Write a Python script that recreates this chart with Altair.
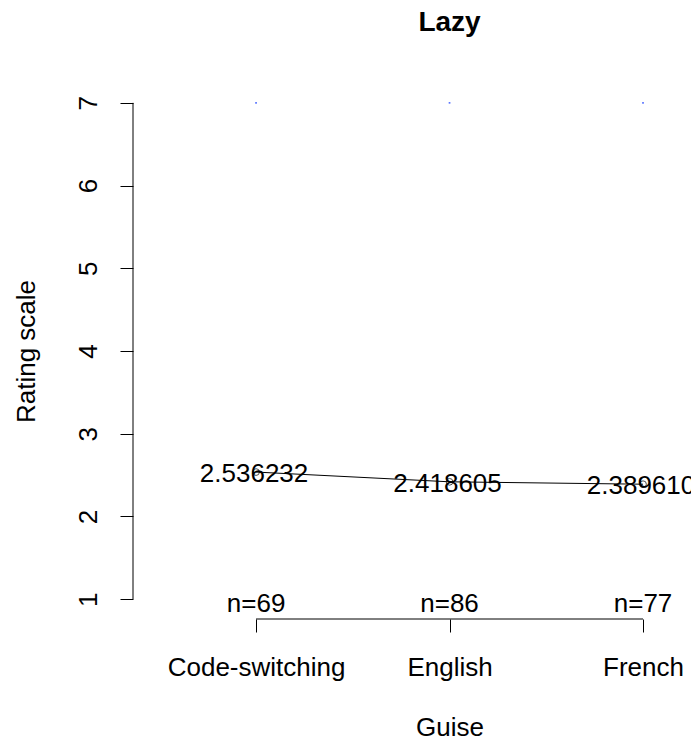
import altair as alt
import pandas as pd

# ---- data ----
chart_title = ["Lazy"]
guises = ["Code-switching", "English", "French"]
positions = [1, 2, 3]
means = [2.536232, 2.418605, 2.389610]
counts = [69, 86, 77]
ci_top = [7, 7, 7]          # tiny blue marks at the top of the scale
y_ticks = [1, 2, 3, 4, 5, 6, 7]

FONT = "Liberation Sans"
XMIN, XMAX = 0.364, 3.248
YMIN, YMAX = 0.76, 7.24
W, H = 558, 536

df = pd.DataFrame({"pos": positions, "guise": guises, "mean": means,
                   "n": counts, "top": ci_top})
yaxis_df = pd.DataFrame({"x": [XMIN], "y1": [y_ticks[0]], "y2": [y_ticks[-1]]})
xaxis_df = pd.DataFrame({"x1": [positions[0]], "x2": [positions[-1]], "y": [YMIN]})
title_df = pd.DataFrame({"t": chart_title})

label_expr = "[" + ",".join("'" + g + "'" for g in guises) + "][datum.value - 1]"

xscale = alt.Scale(domain=[XMIN, XMAX], nice=False, zero=False)
yscale = alt.Scale(domain=[YMIN, YMAX], nice=False, zero=False)

xaxis = alt.Axis(values=positions, domain=False, grid=False, ticks=True,
                 tickSize=13, tickColor="black", tickWidth=1,
                 labelExpr=label_expr, labelFont=FONT, labelFontSize=26,
                 labelColor="black", labelPadding=43, labelBaseline="alphabetic",
                 labelAngle=0, labelAlign="center", labelOverlap=False, labelFlush=False,
                 title="Guise", titleFont=FONT, titleFontSize=26, titleFontWeight="normal",
                 titleColor="black", titleX=316.5, titleY=116,
                 titleBaseline="alphabetic", titleAlign="center")
yaxis = alt.Axis(values=y_ticks, domain=False, grid=False, ticks=True,
                 tickSize=13, tickColor="black", tickWidth=1,
                 labelFont=FONT, labelFontSize=26, labelColor="black",
                 labelAngle=270, labelAlign="center", labelBaseline="alphabetic",
                 labelPadding=24, labelOverlap=False, labelFlush=False,
                 title="Rating scale", titleFont=FONT, titleFontSize=26,
                 titleFontWeight="normal", titleColor="black", titleAngle=270,
                 titleX=-99, titleY=268, titleBaseline="alphabetic", titleAlign="center")


def X(f):
    return alt.X(f, type="quantitative", scale=xscale, axis=xaxis)


def Y(f):
    return alt.Y(f, type="quantitative", scale=yscale, axis=yaxis)


base = alt.Chart(df)

line = base.mark_line(color="black", strokeWidth=1).encode(x=X("pos"), y=Y("mean"))
pts = base.mark_point(shape="circle", filled=False, color="black", size=45,
                      strokeWidth=1).encode(x=X("pos"), y=Y("mean"))
mean_txt = base.mark_text(font=FONT, fontSize=26, color="black", align="center",
                          baseline="middle", dx=-2, dy=2).encode(
    x=X("pos"), y=Y("mean"), text=alt.Text("mean:Q", format=".6f"))
top_pts = base.mark_point(shape="square", filled=True, color="#3355ff", size=3,
                          opacity=0.8).encode(x=X("pos"), y=Y("top"))
n_txt = base.transform_calculate(lab="'n=' + datum.n", ybase=str(YMIN)).mark_text(
    font=FONT, fontSize=26, color="black", align="center", baseline="alphabetic",
    dy=-7).encode(x=X("pos"), y=Y("ybase"), text="lab:N")

yline = alt.Chart(yaxis_df).mark_rule(color="black", strokeWidth=1).encode(
    x=X("x"), y=Y("y1"), y2="y2")
xline = alt.Chart(xaxis_df).mark_rule(color="black", strokeWidth=1).encode(
    x=X("x1"), x2="x2", y=Y("y"))

# chart title, centred over the full R plot region (like R's main title)
title_txt = alt.Chart(title_df).mark_text(
    font=FONT, fontSize=28, fontWeight="bold", color="black",
    align="center", baseline="alphabetic").encode(
    x=alt.value(316.5), y=alt.value(-52), text="t:N")

chart = alt.layer(yline, xline, line, pts, top_pts, mean_txt, n_txt, title_txt).properties(
    width=W, height=H,
    background="white",
    autosize=alt.AutoSizeParams(type="none"),
    padding={"left": 125, "top": 75, "right": 0, "bottom": 118},
).configure_view(strokeWidth=0, stroke="transparent")

chart.save("out.html", embed_options={"renderer": "svg", "actions": False})
